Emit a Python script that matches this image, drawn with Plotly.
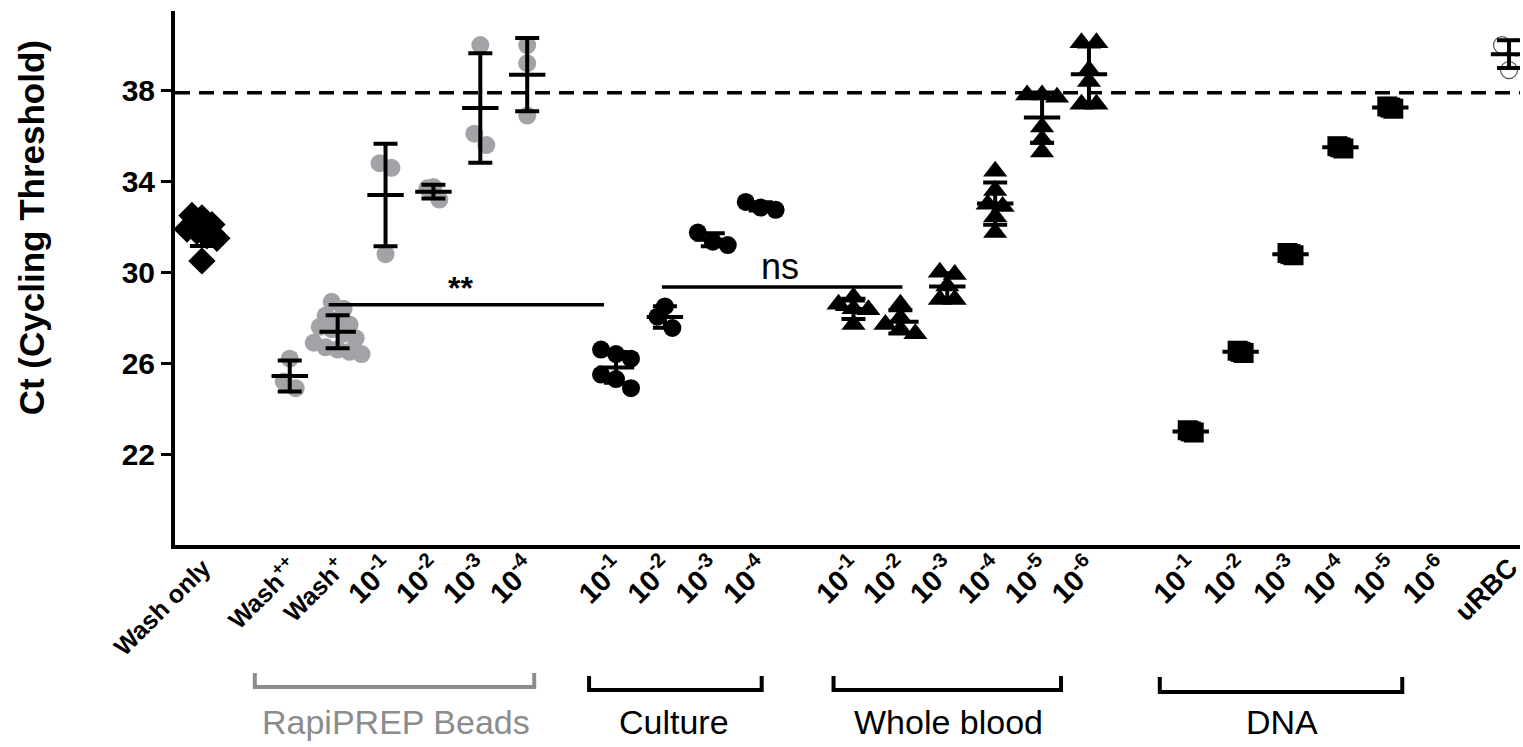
import numpy as np
import plotly.graph_objects as go

# ---------------- Ct values (cycling threshold) per sample ----------------
wash_only = [32.5, 32.4, 32.1, 31.9, 31.8, 31.6, 31.5, 30.5]
wash_pp = [26.2, 25.2, 24.9]
wash_p = [28.7, 28.4, 28.1, 27.9, 27.7, 27.6, 27.5, 27.3, 27.1, 26.9, 26.7, 26.6, 26.5, 26.4]
beads_e1 = [34.8, 34.6, 30.8]
beads_e2 = [33.75, 33.7, 33.2]
beads_e3 = [40.0, 36.1, 35.6]
beads_e4 = [40.0, 39.2, 36.9]
culture_e1 = [26.6, 26.4, 26.2, 25.5, 25.3, 24.9]
culture_e2 = [28.5, 28.05, 27.55]
culture_e3 = [31.75, 31.35, 31.2]
culture_e4 = [33.1, 32.85, 32.75]
blood_e1 = [28.9, 28.6, 28.4, 28.35, 27.7]
blood_e2 = [28.6, 28.0, 27.7, 27.5, 27.3]
blood_e3 = [30.0, 29.9, 29.4, 28.8, 28.8]
blood_e4 = [34.45, 33.6, 33.0, 32.9, 32.45, 31.75]
blood_e5 = [37.8, 37.8, 37.7, 36.4, 35.85, 35.3]
blood_e6 = [40.1, 40.1, 38.9, 38.4, 37.4, 37.4]
dna_e1 = [23.05, 23.0, 22.95]
dna_e2 = [26.55, 26.5, 26.45]
dna_e3 = [30.85, 30.8, 30.75]
dna_e4 = [35.55, 35.5, 35.45]
dna_e5 = [37.3, 37.25, 37.2]
dna_e6 = []
urbc = [38.9, 39.9, 40.0]

threshold = 37.9

word_labels = ["Wash only", "Wash<sup>++</sup>", "Wash<sup>+</sup>", "uRBC"]
dilution_labels = ["10<sup>-1</sup>", "10<sup>-2</sup>", "10<sup>-3</sup>", "10<sup>-4</sup>",
                   "10<sup>-5</sup>", "10<sup>-6</sup>"]
group_names = ["RapiPREP Beads", "Culture", "Whole blood", "DNA"]
significance = ["**", "ns"]

series = [wash_only, wash_pp, wash_p, beads_e1, beads_e2, beads_e3, beads_e4,
          culture_e1, culture_e2, culture_e3, culture_e4,
          blood_e1, blood_e2, blood_e3, blood_e4, blood_e5, blood_e6,
          dna_e1, dna_e2, dna_e3, dna_e4, dna_e5, dna_e6, urbc]


def word(t, px):
    return f'<span style="font-size:{px}px">{t}</span>'


tick_labels = ([word(t, 25) for t in word_labels[:3]]
               + dilution_labels[:4] + dilution_labels[:4]
               + dilution_labels + dilution_labels
               + [word(word_labels[3], 27)])

# ---------------- layout (x axis runs in pixel columns) ----------------
W, H = 1523, 747
L, R, T, B = 175, 0, 11, 202
PLOT_H = H - T - B
Y_RANGE = [18, 41.5]

x_pos = [202, 290, 338, 386, 434, 481, 528,
         617, 666, 714, 762,
         855, 902, 949, 997, 1044, 1091,
         1193, 1243, 1293, 1343, 1393, 1443,
         1512]

GRAY = "#a2a2a7"
styles = (["diamond"] + ["gray"] * 6 + ["circle"] * 4 + ["triangle"] * 6
          + ["square"] * 6 + ["open"])

marker_style = {
    "diamond": dict(symbol="diamond", size=21, color="black"),
    "gray": dict(symbol="circle", size=18, color=GRAY),
    "circle": dict(symbol="circle", size=18, color="black"),
    "triangle": dict(symbol="triangle-up", size=21, color="black"),
    "square": dict(symbol="square", size=20, color="black"),
    "open": dict(symbol="circle", size=17, color="white",
                 line=dict(color="#555555", width=1.2)),
}
spread = {"diamond": 10, "gray": 12, "circle": 15, "triangle": 15, "square": 3, "open": 14}
row_height = {"diamond": 0.55, "gray": 0.5, "circle": 0.72, "triangle": 0.4, "square": 0.72,
              "open": 0.72}

FONT = "Liberation Sans, Arial, sans-serif"


def swarm(vals, center, row_h, step):
    """Group close values into rows and spread each row symmetrically."""
    vals = np.asarray(vals, dtype=float)
    xs = np.full(len(vals), float(center))
    if len(vals) == 0:
        return xs
    order = np.argsort(vals)
    rows, cur = [], []
    for i in order:
        if cur and vals[i] - vals[cur[0]] > row_h:
            rows.append(cur)
            cur = []
        cur.append(i)
    rows.append(cur)
    for r in rows:
        r = sorted(r, key=lambda j: -vals[j])
        n = len(r)
        for k, j in enumerate(r):
            xs[j] = center + (k - (n - 1) / 2) * step
    return xs


def paper_y(py):
    return (H - B - py) / PLOT_H


fig = go.Figure()

# individual replicates
for vals, xc, st in zip(series, x_pos, styles):
    if not vals:
        continue
    xs = swarm(vals, xc, row_height[st], spread[st])
    m = dict(marker_style[st])
    if "line" not in m:
        m["line"] = dict(width=0)
    fig.add_trace(go.Scatter(x=xs, y=vals, mode="markers", marker=m,
                             showlegend=False, hoverinfo="y"))

# mean +/- SD
for vals, xc in zip(series, x_pos):
    if len(vals) < 2:
        continue
    mean = float(np.mean(vals))
    sd = float(np.std(vals, ddof=1))
    fig.add_trace(go.Scatter(
        x=[xc], y=[mean], mode="markers",
        marker=dict(symbol="line-ew-open", size=26, color="black",
                    line=dict(color="black", width=4)),
        error_y=dict(type="data", array=[sd], thickness=4, width=12, color="black"),
        showlegend=False, hoverinfo="y"))

shapes = []
# detection threshold
shapes.append(dict(type="line", xref="x", yref="y", x0=L, x1=W, y0=threshold, y1=threshold,
                   line=dict(color="black", width=3.5, dash="15px,9px")))
# significance bars
sig_bars = [(329, 605, 28.57), (663, 904, 29.35)]
for x0, x1, yv in sig_bars:
    shapes.append(dict(type="line", xref="x", yref="y", x0=x0, x1=x1, y0=yv, y1=yv,
                       line=dict(color="black", width=3.5)))

# group brackets under the axis
brackets = [(255, 535, 673, 687, "#8c8c8c"), (590, 763, 676, 690, "black"),
            (835, 1063, 676, 690, "black"), (1162, 1405, 677, 692, "black")]
for x0, x1, yt, yb, col in brackets:
    a, b = paper_y(yt), paper_y(yb)
    shapes.append(dict(type="path", xref="x", yref="paper",
                       path=f"M {x0},{a} L {x0},{b} L {x1},{b} L {x1},{a}",
                       line=dict(color=col, width=4)))

annotations = []
group_centers = [396, 675, 950, 1284]
group_colors = ["#8c8c8c", "black", "black", "black"]
for name, xc, col in zip(group_names, group_centers, group_colors):
    annotations.append(dict(x=xc, y=paper_y(722), xref="x", yref="paper", text=name,
                            showarrow=False, xanchor="center", yanchor="middle",
                            font=dict(family=FONT, size=34, color=col)))

annotations.append(dict(x=461, y=29.3, xref="x", yref="y", text=significance[0],
                        showarrow=False, xanchor="center", yanchor="middle",
                        font=dict(family=FONT, size=32, color="black", weight="bold")))
annotations.append(dict(x=781, y=30.25, xref="x", yref="y", text=significance[1],
                        showarrow=False, xanchor="center", yanchor="middle",
                        font=dict(family=FONT, size=36, color="black")))

# y-axis title
annotations.append(dict(x=(31 - L) / (W - L - R), y=paper_y(228), xref="paper", yref="paper",
                        text="Ct (Cycling Threshold)", textangle=-90, showarrow=False,
                        xanchor="center", yanchor="middle",
                        font=dict(family=FONT, size=35, color="black", weight="bold")))

fig.update_layout(
    width=W, height=H,
    margin=dict(l=L, r=R, t=T, b=B, pad=0),
    paper_bgcolor="white", plot_bgcolor="white",
    shapes=shapes, annotations=annotations,
    font=dict(family=FONT, color="black"),
    xaxis=dict(range=[L, W], tickvals=x_pos, ticktext=tick_labels, tickangle=-45,
               ticks="", showgrid=False, zeroline=False, showline=True,
               linecolor="black", linewidth=4, ticklabeloverflow="allow",
               ticklabelstandoff=-10,
               tickfont=dict(family=FONT, size=29, color="black", weight="bold")),
    yaxis=dict(range=Y_RANGE, tickvals=[22, 26, 30, 34, 38], ticks="outside",
               ticklen=10, tickwidth=3, tickcolor="black", showgrid=False,
               zeroline=False, showline=True, linecolor="black", linewidth=4,
               tickfont=dict(family=FONT, size=30, color="black", weight="bold")),
)

fig.write_html("out.html")
